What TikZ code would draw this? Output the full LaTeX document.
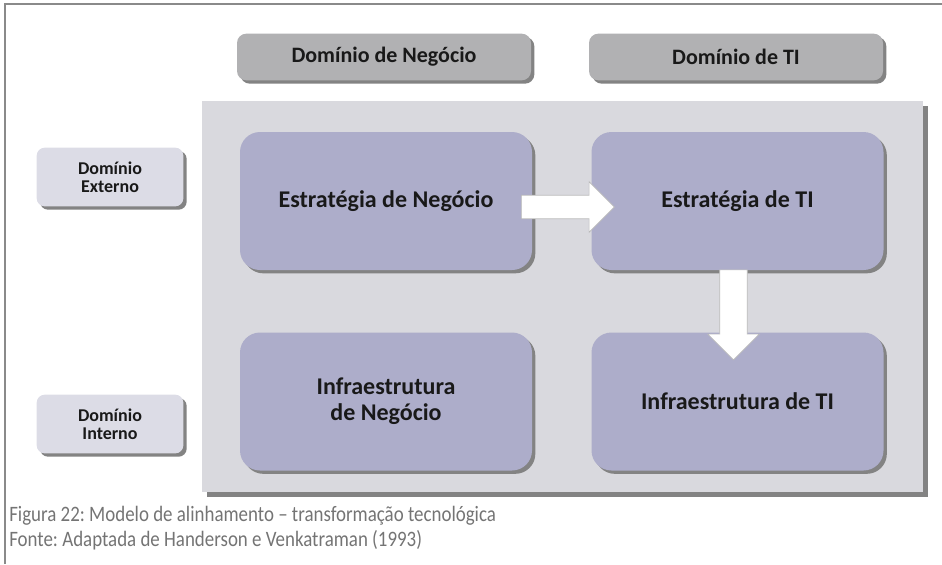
\documentclass[tikz,border=0pt]{standalone}
\usepackage{fontspec}
\setmainfont{Carlito}
\usetikzlibrary{shapes.arrows,shadows}

\definecolor{framegray}{HTML}{8A8A8A}
\definecolor{headgray}{HTML}{B1B1B3}
\definecolor{bggray}{HTML}{D9D9DE}
\definecolor{boxlav}{HTML}{ADADCA}
\definecolor{sidelav}{HTML}{DCDCE6}
\definecolor{shadegray}{HTML}{838383}
\definecolor{captgray}{HTML}{747474}
\frenchspacing
\newcommand\narrowtext[1]{\scalebox{0.86}[1]{#1}}

\begin{document}
\begin{tikzpicture}[x=0.75pt, y=-0.75pt,
    shade/.style={drop shadow={shadow xshift=2.5pt, shadow yshift=-2.5pt, fill=shadegray, opacity=1}},
    headbox/.style={shade, fill=headgray, rounded corners=7pt, minimum width=220.5pt, minimum height=35pt,
        font=\fontsize{16.5}{18}\selectfont\bfseries, text=black!90},
    mainbox/.style={shade, fill=boxlav, rounded corners=15pt, minimum width=219pt, minimum height=103.5pt,
        align=center, font=\fontsize{18}{19.5}\selectfont\bfseries, text=black!90},
    sidebox/.style={shade, fill=sidelav, rounded corners=6pt, minimum width=110pt, minimum height=44pt,
        align=center, font=\fontsize{13.5}{13.5}\selectfont\bfseries, text=black!90},
    blockarrow/.style={shape=single arrow, fill=white, draw=gray!55, line width=0.5pt,
        single arrow tip angle=90},
    caption/.style={anchor=west, inner xsep=0pt, text=captgray, font=\fontsize{16.5}{18}\selectfont}]
\useasboundingbox (0,0) rectangle (942,564);

% frame
\draw[framegray, line width=1.5pt] (5,564) -- (5,4) -- (942,4);

% domain headers
\node[headbox] (dnego) at (384,57) {Domínio de Negócio};
\node[headbox] (dti) at (736,57) {Domínio de TI};

% background panel
\fill[shadegray] (207,106) rectangle (928,497);
\fill[bggray] (202,101) rectangle (923,492);

% side labels
\node[sidebox] (dext) at (110,177) {Domínio\\Externo};
\node[sidebox] (dint) at (110,424) {Domínio\\Interno};

% the four blocks
\node[mainbox] (estneg) at (386,201) {Estratégia de Negócio};
\node[mainbox] (estti) at (737.5,201) {Estratégia de TI};
\node[mainbox] (infneg) at (386,401.5) {Infraestrutura\\de Negócio};
\node[mainbox] (infti) at (737.5,401.5) {Infraestrutura de TI};

% arrows
\node[blockarrow, minimum height=69.75pt, inner xsep=0pt, inner ysep=8.6pt,
    single arrow head extend=10.1pt] (arr1) at (562,207) {};
\node[blockarrow, shape border rotate=270, minimum height=67.5pt, inner xsep=10.1pt, inner ysep=0pt,
    single arrow head extend=9pt] (arr2) at (733.5,308) {};

% caption
\node[caption] (fig) at (9,516) {\narrowtext{Figura 22: Modelo de alinhamento -- transformação tecnológica}};
\node[caption] (src) at (9,540) {\narrowtext{Fonte: Adaptada de Handerson e Venkatraman (1993)}};
\end{tikzpicture}
\end{document}
